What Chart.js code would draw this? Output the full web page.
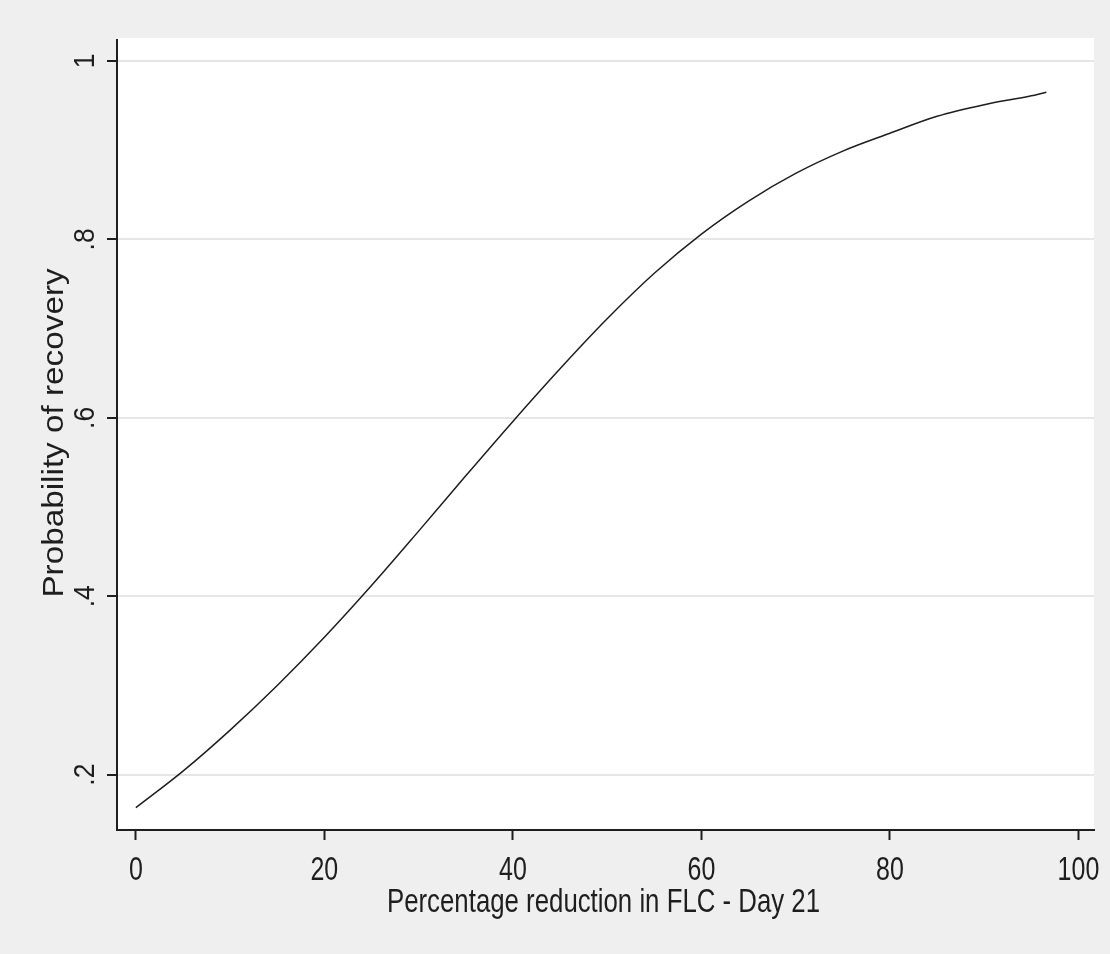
<!DOCTYPE html>
<html>
<head>
<meta charset="utf-8">
<script src="https://cdn.jsdelivr.net/npm/chart.js@4.4.1/dist/chart.umd.min.js"></script>
<style>
  html, body { margin: 0; padding: 0; background: #efefef; }
  #wrap { width: 1110px; height: 954px; }
</style>
</head>
<body>
<div id="wrap"><canvas id="myChart" width="1110" height="954"></canvas></div>
<script>
// percentage reduction in FLC at day 21
const reduction = [0, 5, 10, 15, 20, 25, 30, 35, 40, 45, 50, 55, 60, 65, 70, 75, 80, 85, 90, 95, 96.6];
// predicted probability of recovery
const probability = [0.163, 0.204, 0.250, 0.300, 0.354, 0.412, 0.473, 0.535, 0.596, 0.655, 0.711, 0.762, 0.806, 0.843, 0.874, 0.899, 0.919, 0.938, 0.951, 0.961, 0.965];

const xTicks = [0, 20, 40, 60, 80, 100];
const yTicks = [0.2, 0.4, 0.6, 0.8, 1];
const yTickLabels = [".2", ".4", ".6", ".8", "1"];
const xTitle = "Percentage reduction in FLC - Day 21";
const yTitle = "Probability of recovery";

const FONT = '"Liberation Sans", Arial, sans-serif';
const INK = "#1e1e1e";

// draws a string with separate horizontal / vertical stretch
function stretchedText(ctx, text, x, y, size, sx, sy, rot) {
  ctx.save();
  ctx.translate(x, y);
  if (rot) ctx.rotate(rot);
  ctx.scale(sx, sy);
  ctx.font = size + "px " + FONT;
  ctx.fillStyle = INK;
  ctx.textAlign = "center";
  ctx.textBaseline = "alphabetic";
  ctx.fillText(text, 0, 0);
  ctx.restore();
}

const backdrop = {
  id: "backdrop",
  beforeDraw(chart) {
    const { ctx, chartArea: a } = chart;
    ctx.save();
    ctx.fillStyle = "#efefef";
    ctx.fillRect(0, 0, chart.width, chart.height);
    ctx.fillStyle = "#ffffff";
    ctx.fillRect(a.left, a.top - 2, a.right - a.left, a.bottom - a.top + 2);
    ctx.restore();
  }
};

const axisText = {
  id: "axisText",
  afterDraw(chart) {
    const { ctx, chartArea: a } = chart;
    const xs = chart.scales.x, ys = chart.scales.y;
    xTicks.forEach(v => {
      stretchedText(ctx, String(v), xs.getPixelForValue(v), 880, 25, 1, 1.3, 0);
    });
    yTicks.forEach((v, i) => {
      stretchedText(ctx, yTickLabels[i], 94, ys.getPixelForValue(v), 25, 1.06, 1.16, -Math.PI / 2);
    });
    stretchedText(ctx, xTitle, (a.left + a.right) / 2 - 2, 911.7, 25.8, 1, 1.32, 0);
    stretchedText(ctx, yTitle, 63.3, (a.top + a.bottom) / 2 - 2, 25.8, 1.29, 1.17, -Math.PI / 2);
  }
};

window.onload = function () {
  const ctx = document.getElementById("myChart").getContext("2d");

  const points = reduction.map((x, i) => ({ x: x, y: probability[i] }));

  new Chart(ctx, {
    type: "line",
    data: {
      datasets: [
        {
          data: points,
          borderColor: INK,
          borderWidth: 1.5,
          pointRadius: 0,
          fill: false,
          cubicInterpolationMode: "monotone",
        },
      ],
    },
    options: {
      responsive: false,
      animation: false,
      layout: { padding: { left: 107, right: 16, top: 40, bottom: 114 } },
      plugins: { legend: { display: false }, tooltip: { enabled: false } },
      scales: {
        x: {
          type: "linear",
          min: -2.0,
          max: 101.65,
          afterBuildTicks: s => { s.ticks = xTicks.map(v => ({ value: v })); },
          ticks: { display: false },
          grid: { drawOnChartArea: false, drawTicks: true, tickLength: 10, tickColor: INK, tickWidth: 2 },
          border: { display: true, color: INK, width: 2 },
        },
        y: {
          type: "linear",
          min: 0.138,
          max: 1.0235,
          afterBuildTicks: s => { s.ticks = yTicks.map(v => ({ value: v })); },
          ticks: { display: false },
          grid: { color: "#e6e6e6", lineWidth: 2, drawTicks: true, tickLength: 10, tickColor: INK, tickWidth: 2 },
          border: { display: true, color: INK, width: 2 },
        },
      },
    },
    plugins: [backdrop, axisText],
  });
};
</script>
</body>
</html>
